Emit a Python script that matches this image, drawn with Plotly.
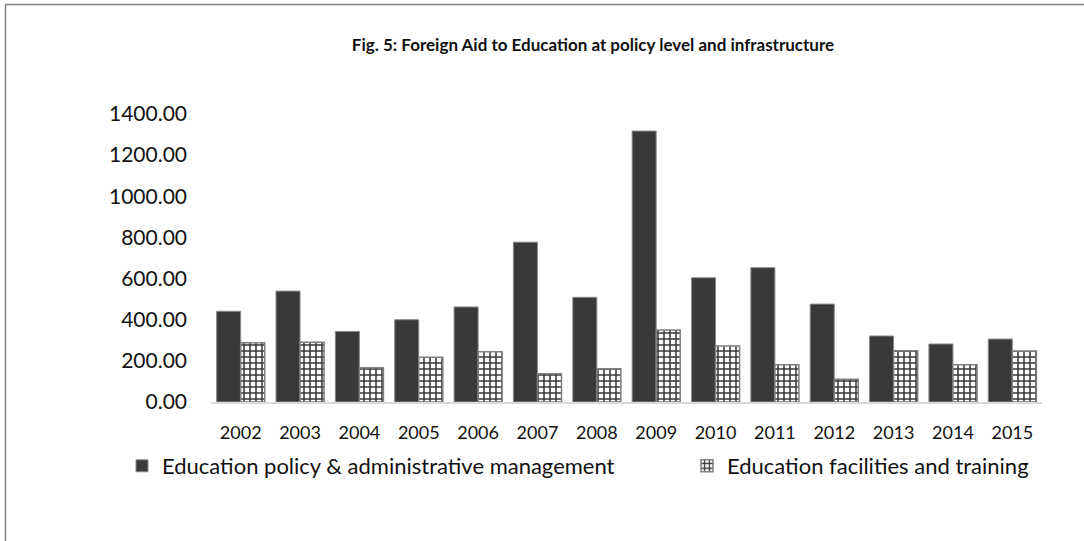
import plotly.graph_objects as go

years = ["2002", "2003", "2004", "2005", "2006", "2007", "2008", "2009",
         "2010", "2011", "2012", "2013", "2014", "2015"]
policy = [441, 539, 343, 400, 462, 777, 509, 1317, 604, 653, 476, 321, 282, 306]
facilities = [288, 291, 167, 217, 244, 137, 162, 350, 272, 181, 110, 249, 181, 248]
y_ticks = [0, 200, 400, 600, 800, 1000, 1200, 1400]

FONT = "Lato"
DARK = "#3a3937"

fig = go.Figure()
fig.add_trace(go.Bar(
    x=years, y=policy, name="Education policy & administrative management",
    marker=dict(color=DARK, line=dict(color="#8a8a8a", width=1)),
    legend="legend",
))
fig.add_trace(go.Bar(
    x=years, y=facilities, name="Education facilities and training",
    marker=dict(color="white", line=dict(color="#7f7f7f", width=1.5),
                pattern=dict(shape="+", fgcolor=DARK, bgcolor="white",
                             size=6, solidity=0.45, fillmode="replace")),
    legend="legend2",
))

L, R, T, B = 211, 1042, 114, 402
W, H = R - L, B - T
FW, FH = 1084, 541

def px(x):
    return (x - L) / W

def py(y):
    return (B - y) / H

legend_common = dict(orientation="h", xanchor="left", xref="container",
                     yref="container", y=1 - 466 / FH, yanchor="middle",
                     font=dict(size=22), bgcolor="rgba(0,0,0,0)")

fig.update_layout(
    width=FW, height=FH,
    margin=dict(l=L, r=FW - R, t=T, b=FH - B, autoexpand=False),
    paper_bgcolor="white", plot_bgcolor="white",
    barmode="group", bargap=0.19, bargroupgap=0,
    font=dict(family=FONT, color="#111111", size=19),
    title=dict(text="<b>Fig. 5: Foreign Aid to Education at policy level and infrastructure</b>",
               x=593 / FW, xanchor="center", xref="container", y=1 - 45 / FH, yanchor="middle",
               yref="container", font=dict(family=FONT, size=17, color="#111111")),
    xaxis=dict(showgrid=False, showline=True, linecolor="#d9d9d9", linewidth=2,
               ticks="", ticklabelstandoff=13, tickfont=dict(size=18), automargin=False),
    yaxis=dict(range=[0, 1400], tickvals=y_ticks,
               ticktext=[f"{v:.2f}" for v in y_ticks],
               showgrid=False, showline=False, zeroline=False, ticks="",
               ticklabelstandoff=23, tickfont=dict(size=21), automargin=False),
    legend=dict(x=122 / FW, **legend_common),
    legend2=dict(x=687 / FW, **legend_common),
    showlegend=True,
    shapes=[
        dict(type="line", xref="paper", yref="paper", x0=px(5.5), x1=px(1084), y0=py(4.5), y1=py(4.5),
             line=dict(color="#7f7f7f", width=1.5)),
        dict(type="line", xref="paper", yref="paper", x0=px(5.5), x1=px(5.5), y0=py(4.5), y1=py(545),
             line=dict(color="#7f7f7f", width=1.5)),
    ],
)

fig.write_html("out.html", config={"displayModeBar": False},
               post_script="document.body.style.margin='0px';")
